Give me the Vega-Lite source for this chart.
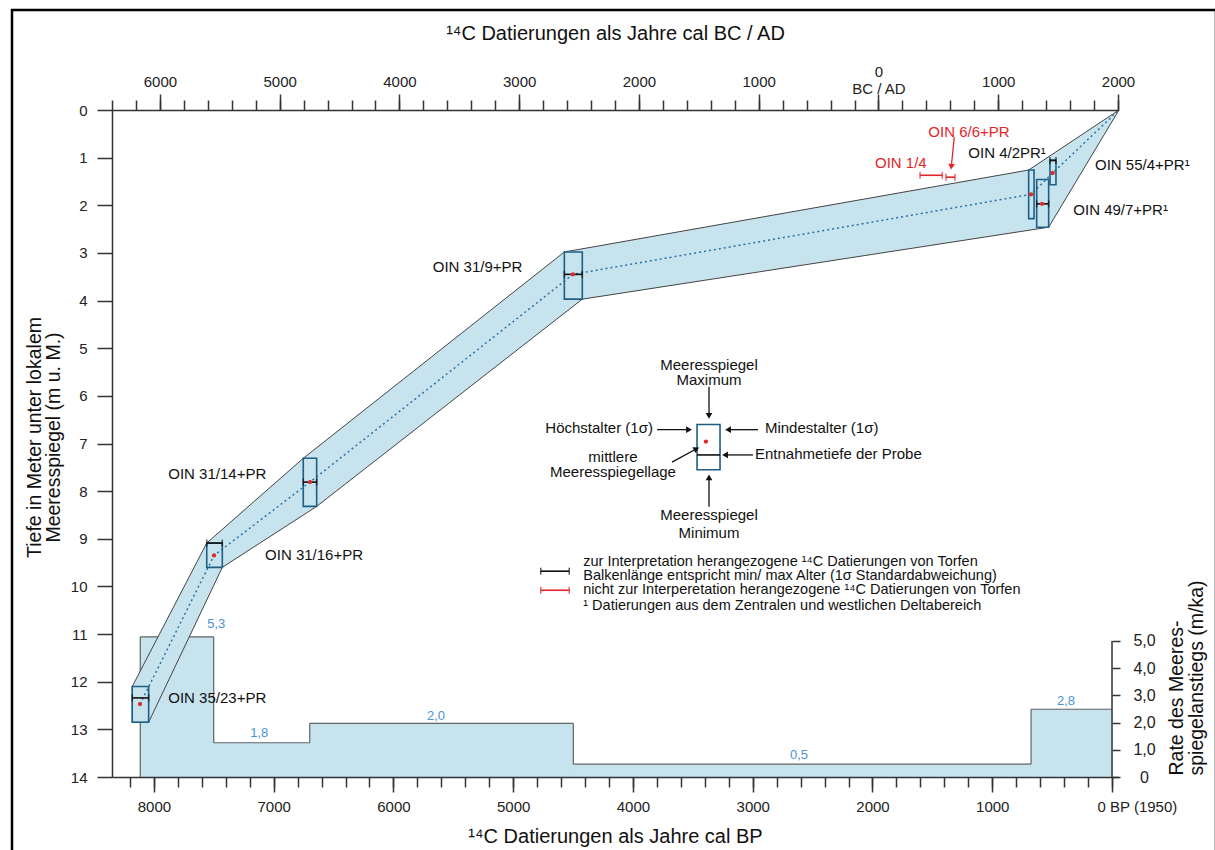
{
  "$schema": "https://vega.github.io/schema/vega-lite/v6.json",
  "width": 1006,
  "height": 667,
  "autosize": {"type": "none"},
  "padding": {"left": 112, "top": 110, "right": 97, "bottom": 73},
  "background": "#ffffff",
  "config": {"view": {"stroke": null}, "font": "Liberation Sans"},
  "datasets": {
    "rate": [
      {"start": 8114, "end": 7501, "rate": 5.15},
      {"start": 7501, "end": 6699, "rate": 1.26},
      {"start": 6699, "end": 4498, "rate": 1.97},
      {"start": 4498, "end": 676, "rate": 0.47},
      {"start": 676, "end": 0, "rate": 2.49}
    ],
    "ratelabels": [
      {"label": "5,3", "bp": 7479, "rate": 5.62},
      {"label": "1,8", "bp": 7120, "rate": 1.6},
      {"label": "2,0", "bp": 5645, "rate": 2.23},
      {"label": "0,5", "bp": 2614, "rate": 0.8},
      {"label": "2,8", "bp": 384, "rate": 2.79}
    ],
    "envelope": [
      {"o": 1, "bp": -58, "depth": 0},
      {"o": 2, "bp": 696, "depth": 1.26},
      {"o": 3, "bp": 4573, "depth": 2.98},
      {"o": 4, "bp": 6753, "depth": 7.31},
      {"o": 5, "bp": 7559, "depth": 9.09},
      {"o": 6, "bp": 8181, "depth": 12.1},
      {"o": 7, "bp": 8181, "depth": 12.85},
      {"o": 8, "bp": 8044, "depth": 12.85},
      {"o": 9, "bp": 7429, "depth": 9.6},
      {"o": 10, "bp": 6641, "depth": 8.32},
      {"o": 11, "bp": 4423, "depth": 3.97},
      {"o": 12, "bp": 529, "depth": 2.46}
    ],
    "center": [
      {"o": 1, "bp": 8116, "depth": 12.47},
      {"o": 2, "bp": 7498, "depth": 9.35},
      {"o": 3, "bp": 6697, "depth": 7.81},
      {"o": 4, "bp": 4501, "depth": 3.45},
      {"o": 5, "bp": 676, "depth": 1.77},
      {"o": 6, "bp": 495, "depth": 1.32},
      {"o": 7, "bp": -58, "depth": 0}
    ],
    "samples": [
      {"id": "OIN 35/23+PR", "bp_old": 8181, "bp_young": 8044, "top": 12.1, "bottom": 12.85, "dot_bp": 8116, "dot_depth": 12.47},
      {"id": "OIN 31/16+PR", "bp_old": 7559, "bp_young": 7429, "top": 9.09, "bottom": 9.6, "dot_bp": 7498, "dot_depth": 9.35},
      {"id": "OIN 31/14+PR", "bp_old": 6753, "bp_young": 6641, "top": 7.31, "bottom": 8.32, "dot_bp": 6697, "dot_depth": 7.81},
      {"id": "OIN 31/9+PR", "bp_old": 4573, "bp_young": 4423, "top": 2.98, "bottom": 3.97, "dot_bp": 4501, "dot_depth": 3.45},
      {"id": "OIN 4/2PR", "bp_old": 696, "bp_young": 651, "top": 1.26, "bottom": 2.28, "dot_bp": 676, "dot_depth": 1.77},
      {"id": "OIN 49/7+PR", "bp_old": 629, "bp_young": 529, "top": 1.46, "bottom": 2.46, "dot_bp": 584, "dot_depth": 1.97},
      {"id": "OIN 55/4+PR", "bp_old": 518, "bp_young": 468, "top": 1.05, "bottom": 1.57, "dot_bp": 495, "dot_depth": 1.32},
      {"id": "schema", "bp_old": 3465, "bp_young": 3273, "top": 6.6, "bottom": 7.55, "dot_bp": 3391, "dot_depth": 6.96}
    ],
    "dates": [
      {"id": "OIN 35/23+PR", "kind": "used", "bp_old": 8181, "bp_young": 8044, "depth": 12.34},
      {"id": "OIN 31/16+PR", "kind": "used", "bp_old": 7559, "bp_young": 7429, "depth": 9.09},
      {"id": "OIN 31/14+PR", "kind": "used", "bp_old": 6753, "bp_young": 6641, "depth": 7.81},
      {"id": "OIN 31/9+PR", "kind": "used", "bp_old": 4573, "bp_young": 4423, "depth": 3.45},
      {"id": "OIN 49/7+PR", "kind": "used", "bp_old": 629, "bp_young": 529, "depth": 1.97},
      {"id": "OIN 55/4+PR", "kind": "used", "bp_old": 518, "bp_young": 468, "depth": 1.06},
      {"id": "OIN 1/4", "kind": "rejected", "bp_old": 1603, "bp_young": 1417, "depth": 1.37},
      {"id": "OIN 6/6+PR", "kind": "rejected", "bp_old": 1386, "bp_young": 1311, "depth": 1.41},
      {"id": "legend used", "kind": "used", "bp_old": 4770, "bp_young": 4532, "depth": 9.68},
      {"id": "legend rejected", "kind": "rejected", "bp_old": 4770, "bp_young": 4532, "depth": 10.08},
      {"id": "schema", "kind": "schema", "bp_old": 3465, "bp_young": 3273, "depth": 7.24}
    ],
    "arrows": [
      {"kind": "schema", "bp1": 3365, "d1": 5.81, "bp2": 3365, "d2": 6.42, "heading": 180},
      {"kind": "schema", "bp1": 3365, "d1": 8.33, "bp2": 3365, "d2": 7.71, "heading": 0},
      {"kind": "schema", "bp1": 3799, "d1": 6.71, "bp2": 3532, "d2": 6.71, "heading": 90},
      {"kind": "schema", "bp1": 2956, "d1": 6.71, "bp2": 3206, "d2": 6.71, "heading": 270},
      {"kind": "schema", "bp1": 2998, "d1": 7.24, "bp2": 3231, "d2": 7.24, "heading": 270},
      {"kind": "schema", "bp1": 3674, "d1": 7.39, "bp2": 3469, "d2": 7.11, "heading": 62},
      {"kind": "rejected", "bp1": 1317, "d1": 0.57, "bp2": 1342, "d2": 1.19, "heading": 186}
    ],
    "notes": [
      {"text": "OIN 35/23+PR", "bp": 7880, "depth": 12.34, "group": "sample", "kind": "used"},
      {"text": "OIN 31/16+PR", "bp": 7072, "depth": 9.33, "group": "sample", "kind": "used"},
      {"text": "OIN 31/14+PR", "bp": 7880, "depth": 7.65, "group": "sample", "kind": "used"},
      {"text": "OIN 31/9+PR", "bp": 5672, "depth": 3.3, "group": "sample", "kind": "used"},
      {"text": "OIN 4/2PR¹", "bp": 1200, "depth": 0.91, "group": "sample", "kind": "used"},
      {"text": "OIN 55/4+PR¹", "bp": 142, "depth": 1.15, "group": "sample", "kind": "used"},
      {"text": "OIN 49/7+PR¹", "bp": 323, "depth": 2.1, "group": "sample", "kind": "used"},
      {"text": "OIN 6/6+PR", "bp": 1534, "depth": 0.47, "group": "sample", "kind": "rejected"},
      {"text": "OIN 1/4", "bp": 1979, "depth": 1.11, "group": "sample", "kind": "rejected"},
      {"text": "Meeresspiegel", "bp": 3365, "depth": 5.35, "group": "schema_c", "kind": "schema"},
      {"text": "Maximum", "bp": 3365, "depth": 5.67, "group": "schema_c", "kind": "schema"},
      {"text": "Meeresspiegel", "bp": 3365, "depth": 8.5, "group": "schema_c", "kind": "schema"},
      {"text": "Minimum", "bp": 3365, "depth": 8.87, "group": "schema_c", "kind": "schema"},
      {"text": "mittlere", "bp": 4167, "depth": 7.28, "group": "schema_c", "kind": "schema"},
      {"text": "Meeresspiegellage", "bp": 4167, "depth": 7.59, "group": "schema_c", "kind": "schema"},
      {"text": "Höchstalter (1σ)", "bp": 3833, "depth": 6.67, "group": "schema_r", "kind": "schema"},
      {"text": "Mindestalter (1σ)", "bp": 2898, "depth": 6.67, "group": "schema_l", "kind": "schema"},
      {"text": "Entnahmetiefe der Probe", "bp": 2981, "depth": 7.23, "group": "schema_l", "kind": "schema"},
      {"text": "zur Interpretation herangezogene ¹⁴C Datierungen von Torfen", "bp": 4415, "depth": 9.49, "group": "legend", "kind": "used"},
      {"text": "Balkenlänge entspricht min/ max Alter (1σ Standardabweichung)", "bp": 4415, "depth": 9.78, "group": "legend", "kind": "used"},
      {"text": "nicht zur Interperetation herangezogene ¹⁴C Datierungen von Torfen", "bp": 4415, "depth": 10.08, "group": "legend", "kind": "used"},
      {"text": "¹ Datierungen aus dem Zentralen und westlichen Deltabereich", "bp": 4415, "depth": 10.41, "group": "legend", "kind": "used"}
    ]
  },
  "layer": [
    {
      "data": {"values": [{"x1": 9185, "x2": -868, "y1": -2.1, "y2": 15.6}]},
      "mark": {"type": "rect", "filled": false, "stroke": "#000000", "strokeWidth": 2.5},
      "encoding": {
        "x": {"field": "x1", "type": "quantitative", "scale": {"domain": [-50, 8350], "reverse": true, "nice": false, "zero": false},
          "axis": {"orient": "bottom", "values": [0, 1000, 2000, 3000, 4000, 5000, 6000, 7000, 8000], "tickSize": 15, "tickWidth": 1.5, "tickColor": "#333333", "domainColor": "#333333", "domainWidth": 1.5, "labelFontSize": 15, "labelColor": "#222222", "labelPadding": 7, "labelFlush": false, "labelOverlap": false,
            "labelExpr": "datum.value == 0 ? '0 BP (1950)' : format(datum.value, 'd')",
            "labelAlign": {"condition": {"test": "datum.value == 0", "value": "left"}, "value": "center"},
            "labelOffset": {"condition": {"test": "datum.value == 0", "value": -15}, "value": 0},
            "grid": false, "title": "¹⁴C Datierungen als Jahre cal BP", "titleFontSize": 20, "titleFontWeight": "normal", "titleColor": "#111111", "titleBaseline": "alphabetic", "titleY": 65, "zindex": 1}},
        "x2": {"field": "x2"},
        "y": {"field": "y1", "type": "quantitative", "scale": {"domain": [0, 14], "reverse": true, "nice": false, "zero": false}, "axis": null},
        "y2": {"field": "y2"}
      }
    },
    {
      "data": {"name": "rate"},
      "mark": {"type": "rect", "color": "#c6e3ee", "stroke": "#c6e3ee", "strokeWidth": 0.8},
      "encoding": {
        "x": {"field": "start", "type": "quantitative", "scale": {"domain": [-50, 8350], "reverse": true, "nice": false, "zero": false},
          "axis": {"orient": "bottom", "values": [0, 200, 400, 600, 800, 1000, 1200, 1400, 1600, 1800, 2000, 2200, 2400, 2600, 2800, 3000, 3200, 3400, 3600, 3800, 4000, 4200, 4400, 4600, 4800, 5000, 5200, 5400, 5600, 5800, 6000, 6200, 6400, 6600, 6800, 7000, 7200, 7400, 7600, 7800, 8000, 8200], "tickSize": 10, "tickWidth": 1.5, "tickColor": "#333333", "domain": false, "labels": false, "grid": false, "title": null, "zindex": 1}},
        "x2": {"field": "end"},
        "y": {"field": "rate", "type": "quantitative", "scale": {"domain": [0, 24.52], "nice": false, "zero": false}, "axis": null},
        "y2": {"datum": 0}
      }
    },
    {
      "data": {"name": "rate"},
      "mark": {"type": "rule", "color": "#666666", "strokeWidth": 1.2},
      "encoding": {
        "x": {"field": "start", "type": "quantitative", "scale": {"domain": [-50, 8350], "reverse": true, "nice": false, "zero": false}, "axis": null},
        "x2": {"field": "end"},
        "y": {"field": "rate", "type": "quantitative", "scale": {"domain": [0, 24.52], "nice": false, "zero": false}, "axis": null}
      }
    },
    {
      "data": {"name": "rate"},
      "transform": [
        {"window": [{"op": "lag", "field": "rate", "as": "prev"}], "sort": [{"field": "start", "order": "descending"}]},
        {"calculate": "datum.prev == null ? 0 : datum.prev", "as": "prev0"}
      ],
      "mark": {"type": "rule", "color": "#666666", "strokeWidth": 1.2},
      "encoding": {
        "x": {"field": "start", "type": "quantitative", "scale": {"domain": [-50, 8350], "reverse": true, "nice": false, "zero": false}, "axis": null},
        "y": {"field": "rate", "type": "quantitative", "scale": {"domain": [0, 24.52], "nice": false, "zero": false}, "axis": null},
        "y2": {"field": "prev0"}
      }
    },
    {
      "data": {"name": "envelope"},
      "mark": {"type": "line", "interpolate": "linear-closed", "fill": "#c6e3ee", "stroke": "#444444", "strokeWidth": 1},
      "encoding": {
        "x": {"field": "bp", "type": "quantitative", "scale": {"domain": [-50, 8350], "reverse": true, "nice": false, "zero": false},
          "axis": {"orient": "top", "values": [7950, 6950, 5950, 4950, 3950, 2950, 1950, 950, -50], "tickSize": 16, "tickWidth": 1.5, "tickColor": "#333333", "domainColor": "#333333", "domainWidth": 1.5, "labelFontSize": 15, "labelColor": "#222222", "labelBaseline": "middle",
            "labelPadding": {"condition": {"test": "datum.value == 1950", "value": 23}, "value": 13},
            "labelLineHeight": 17, "labelFlush": false, "labelOverlap": false,
            "labelExpr": "datum.value == 1950 ? ['0', 'BC / AD'] : format(abs(1950 - datum.value), 'd')",
            "grid": false, "title": "¹⁴C Datierungen als Jahre cal BC / AD", "titleFontSize": 20, "titleFontWeight": "normal", "titleColor": "#111111", "titleBaseline": "alphabetic", "titleY": -71, "zindex": 1}},
        "y": {"field": "depth", "type": "quantitative", "scale": {"domain": [0, 14], "reverse": true, "nice": false, "zero": false},
          "axis": {"orient": "left", "values": [0, 1, 2, 3, 4, 5, 6, 7, 8, 9, 10, 11, 12, 13, 14], "tickSize": 15, "tickWidth": 1.5, "tickColor": "#333333", "domainColor": "#333333", "domainWidth": 1.5, "labelFontSize": 15, "labelColor": "#222222", "labelPadding": 10, "labelFlush": false, "labelOverlap": false, "grid": false,
            "title": ["Tiefe in Meter unter lokalem", "Meeresspiegel (m u. M.)"], "titleFontSize": 19.5, "titleFontWeight": "normal", "titleColor": "#111111", "titleAngle": 270, "titleAlign": "center", "titleBaseline": "alphabetic", "titleLineHeight": 19, "titleX": -72, "titleY": 327, "zindex": 1}},
        "order": {"field": "o", "type": "quantitative"}
      }
    },
    {
      "data": {"name": "center"},
      "mark": {"type": "line", "color": "#2a72a8", "strokeWidth": 1.5, "strokeDash": [2, 3]},
      "encoding": {
        "x": {"field": "bp", "type": "quantitative", "scale": {"domain": [-50, 8350], "reverse": true, "nice": false, "zero": false},
          "axis": {"orient": "top", "values": [8350, 8150, 7950, 7750, 7550, 7350, 7150, 6950, 6750, 6550, 6350, 6150, 5950, 5750, 5550, 5350, 5150, 4950, 4750, 4550, 4350, 4150, 3950, 3750, 3550, 3350, 3150, 2950, 2750, 2550, 2350, 2150, 1950, 1750, 1550, 1350, 1150, 950, 750, 550, 350, 150, -50], "tickSize": 10, "tickWidth": 1.5, "tickColor": "#333333", "domain": false, "labels": false, "grid": false, "title": null, "zindex": 1}},
        "y": {"field": "depth", "type": "quantitative", "scale": {"domain": [0, 14], "reverse": true, "nice": false, "zero": false}, "axis": null},
        "order": {"field": "o", "type": "quantitative"}
      }
    },
    {
      "data": {"name": "samples"},
      "mark": {"type": "rect", "filled": false, "stroke": "#1d5f85", "strokeWidth": 1.6},
      "encoding": {
        "x": {"field": "bp_old", "type": "quantitative", "scale": {"domain": [-50, 8350], "reverse": true, "nice": false, "zero": false}, "axis": null},
        "x2": {"field": "bp_young"},
        "y": {"field": "top", "type": "quantitative", "scale": {"domain": [0, 14], "reverse": true, "nice": false, "zero": false}, "axis": null},
        "y2": {"field": "bottom"}
      }
    },
    {
      "data": {"name": "dates"},
      "mark": {"type": "rule", "strokeWidth": 1.6},
      "encoding": {
        "x": {"field": "bp_old", "type": "quantitative", "scale": {"domain": [-50, 8350], "reverse": true, "nice": false, "zero": false}, "axis": null},
        "x2": {"field": "bp_young"},
        "y": {"field": "depth", "type": "quantitative", "scale": {"domain": [0, 14], "reverse": true, "nice": false, "zero": false}, "axis": null},
        "color": {"field": "kind", "type": "nominal", "scale": {"domain": ["used", "rejected", "schema"], "range": ["#111111", "#e4262a", "#111111"]}, "legend": null}
      }
    },
    {
      "data": {"name": "dates"},
      "transform": [
        {"filter": "datum.kind != 'schema'"},
        {"fold": ["bp_old", "bp_young"], "as": ["end", "bp"]}
      ],
      "mark": {"type": "tick", "orient": "vertical", "size": 7, "thickness": 1.5},
      "encoding": {
        "x": {"field": "bp", "type": "quantitative", "scale": {"domain": [-50, 8350], "reverse": true, "nice": false, "zero": false}, "axis": null},
        "y": {"field": "depth", "type": "quantitative", "scale": {"domain": [0, 14], "reverse": true, "nice": false, "zero": false}, "axis": null},
        "color": {"field": "kind", "type": "nominal", "scale": {"domain": ["used", "rejected", "schema"], "range": ["#111111", "#e4262a", "#111111"]}, "legend": null}
      }
    },
    {
      "data": {"name": "samples"},
      "mark": {"type": "point", "filled": true, "color": "#e4262a", "size": 18, "opacity": 1},
      "encoding": {
        "x": {"field": "dot_bp", "type": "quantitative", "scale": {"domain": [-50, 8350], "reverse": true, "nice": false, "zero": false}, "axis": null},
        "y": {"field": "dot_depth", "type": "quantitative", "scale": {"domain": [0, 14], "reverse": true, "nice": false, "zero": false}, "axis": null}
      }
    },
    {
      "data": {"name": "arrows"},
      "mark": {"type": "rule", "strokeWidth": 1.3},
      "encoding": {
        "x": {"field": "bp1", "type": "quantitative", "scale": {"domain": [-50, 8350], "reverse": true, "nice": false, "zero": false}, "axis": null},
        "x2": {"field": "bp2"},
        "y": {"field": "d1", "type": "quantitative", "scale": {"domain": [0, 14], "reverse": true, "nice": false, "zero": false}, "axis": null},
        "y2": {"field": "d2"},
        "color": {"field": "kind", "type": "nominal", "scale": {"domain": ["used", "rejected", "schema"], "range": ["#111111", "#e4262a", "#111111"]}, "legend": null}
      }
    },
    {
      "data": {"name": "arrows"},
      "mark": {"type": "point", "shape": "triangle-up", "filled": true, "size": 45, "opacity": 1, "strokeWidth": 0},
      "encoding": {
        "x": {"field": "bp2", "type": "quantitative", "scale": {"domain": [-50, 8350], "reverse": true, "nice": false, "zero": false}, "axis": null},
        "y": {"field": "d2", "type": "quantitative", "scale": {"domain": [0, 14], "reverse": true, "nice": false, "zero": false}, "axis": null},
        "angle": {"field": "heading", "type": "quantitative", "scale": null},
        "color": {"field": "kind", "type": "nominal", "scale": {"domain": ["used", "rejected", "schema"], "range": ["#111111", "#e4262a", "#111111"]}, "legend": null}
      }
    },
    {
      "data": {"name": "notes"},
      "transform": [{"filter": "datum.group == 'sample'"}],
      "mark": {"type": "text", "align": "left", "baseline": "middle", "fontSize": 15},
      "encoding": {
        "x": {"field": "bp", "type": "quantitative", "scale": {"domain": [-50, 8350], "reverse": true, "nice": false, "zero": false}, "axis": null},
        "y": {"field": "depth", "type": "quantitative", "scale": {"domain": [0, 14], "reverse": true, "nice": false, "zero": false}, "axis": null},
        "text": {"field": "text"},
        "color": {"field": "kind", "type": "nominal", "scale": {"domain": ["used", "rejected", "schema"], "range": ["#111111", "#e4262a", "#111111"]}, "legend": null}
      }
    },
    {
      "data": {"name": "notes"},
      "transform": [{"filter": "datum.group == 'schema_c'"}],
      "mark": {"type": "text", "align": "center", "baseline": "middle", "fontSize": 15, "color": "#111111"},
      "encoding": {
        "x": {"field": "bp", "type": "quantitative", "scale": {"domain": [-50, 8350], "reverse": true, "nice": false, "zero": false}, "axis": null},
        "y": {"field": "depth", "type": "quantitative", "scale": {"domain": [0, 14], "reverse": true, "nice": false, "zero": false}, "axis": null},
        "text": {"field": "text"}
      }
    },
    {
      "data": {"name": "notes"},
      "transform": [{"filter": "datum.group == 'schema_l'"}],
      "mark": {"type": "text", "align": "left", "baseline": "middle", "fontSize": 15, "color": "#111111"},
      "encoding": {
        "x": {"field": "bp", "type": "quantitative", "scale": {"domain": [-50, 8350], "reverse": true, "nice": false, "zero": false}, "axis": null},
        "y": {"field": "depth", "type": "quantitative", "scale": {"domain": [0, 14], "reverse": true, "nice": false, "zero": false}, "axis": null},
        "text": {"field": "text"}
      }
    },
    {
      "data": {"name": "notes"},
      "transform": [{"filter": "datum.group == 'schema_r'"}],
      "mark": {"type": "text", "align": "right", "baseline": "middle", "fontSize": 15, "color": "#111111"},
      "encoding": {
        "x": {"field": "bp", "type": "quantitative", "scale": {"domain": [-50, 8350], "reverse": true, "nice": false, "zero": false}, "axis": null},
        "y": {"field": "depth", "type": "quantitative", "scale": {"domain": [0, 14], "reverse": true, "nice": false, "zero": false}, "axis": null},
        "text": {"field": "text"}
      }
    },
    {
      "data": {"name": "notes"},
      "transform": [{"filter": "datum.group == 'legend'"}],
      "mark": {"type": "text", "align": "left", "baseline": "middle", "fontSize": 14.5, "color": "#111111"},
      "encoding": {
        "x": {"field": "bp", "type": "quantitative", "scale": {"domain": [-50, 8350], "reverse": true, "nice": false, "zero": false}, "axis": null},
        "y": {"field": "depth", "type": "quantitative", "scale": {"domain": [0, 14], "reverse": true, "nice": false, "zero": false}, "axis": null},
        "text": {"field": "text"}
      }
    },
    {
      "data": {"name": "ratelabels"},
      "mark": {"type": "text", "align": "center", "baseline": "middle", "fontSize": 13, "color": "#4a92d4"},
      "encoding": {
        "x": {"field": "bp", "type": "quantitative", "scale": {"domain": [-50, 8350], "reverse": true, "nice": false, "zero": false}, "axis": null},
        "y": {"field": "rate", "type": "quantitative", "scale": {"domain": [0, 24.52], "nice": false, "zero": false}, "axis": null},
        "text": {"field": "label"}
      }
    },
    {
      "data": {"values": [{"axis": "rate"}]},
      "mark": {"type": "rule", "color": "#333333", "strokeWidth": 1.5},
      "encoding": {
        "x": {"datum": 0, "type": "quantitative", "scale": {"domain": [-50, 8350], "reverse": true, "nice": false, "zero": false}, "axis": null},
        "y": {"datum": 0, "type": "quantitative", "scale": {"domain": [0, 24.52], "nice": false, "zero": false},
          "axis": {"orient": "right", "offset": -6, "values": [0, 1, 2, 3, 4, 5], "domain": false, "tickSize": 8, "tickWidth": 1.5, "tickColor": "#333333", "labelFontSize": 16, "labelColor": "#222222", "labelAlign": "center", "labelPadding": 24, "labelFlush": false, "labelOverlap": false,
            "labelExpr": "datum.value == 0 ? '0' : replace(format(datum.value, '.1f'), '.', ',')",
            "grid": false, "title": ["Rate des Meeres-", "spiegelanstiegs (m/ka)"], "titleFontSize": 19.5, "titleFontWeight": "normal", "titleColor": "#111111", "titleAngle": 270, "titleAlign": "left", "titleBaseline": "alphabetic", "titleLineHeight": 20, "titleX": 70, "titleY": 665, "zindex": 1}},
        "y2": {"datum": 5}
      }
    }
  ],
  "resolve": {"scale": {"y": "independent"}, "axis": {"x": "independent", "y": "independent"}}
}
